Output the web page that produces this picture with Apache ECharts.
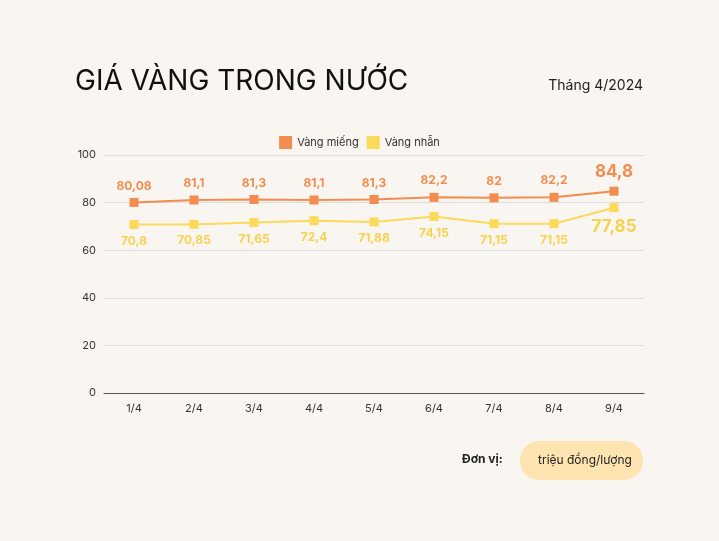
<!DOCTYPE html>
<html><head><meta charset="utf-8">
<script src="https://cdn.jsdelivr.net/npm/echarts@6/dist/echarts.min.js"></script>
<style>html,body{margin:0;padding:0;background:#f9f6f2}#c{width:719px;height:541px}</style>
</head><body><div id="c"></div>
<script>
const categories=['1/4','2/4','3/4','4/4','5/4','6/4','7/4','8/4','9/4'];
const vangMieng=[80.08,81.1,81.3,81.1,81.3,82.2,82,82.2,84.8];
const vangNhan=[70.8,70.85,71.65,72.4,71.88,74.15,71.15,71.15,77.85];
const fmt=v=>String(v).replace('.',',');
function mk(arr){return arr.map((v,i)=>i===arr.length-1?{value:v,label:{fontSize:17,fontWeight:'bold'}}:v);}
const chart=echarts.init(document.getElementById('c'));
chart.setOption({
 backgroundColor:'#f9f6f2',
 animation:false,
 textStyle:{fontFamily:'Inter'},
 title:[{text:'GIÁ VÀNG TRONG NƯỚC',left:70,top:63,textStyle:{fontSize:28,fontWeight:'normal',color:'#111',fontFamily:'Inter'}},
  {text:'Tháng 4/2024',right:71,top:74,textStyle:{fontSize:14,fontWeight:'normal',color:'#222'}}],
 legend:{top:131,left:'center',itemWidth:13,itemHeight:13,icon:'rect',textStyle:{fontSize:11,color:'#333'},data:['Vàng miếng','Vàng nhẫn']},
 grid:{left:104,right:75,top:155,bottom:148},
 xAxis:{type:'category',data:categories,axisTick:{show:false},axisLine:{lineStyle:{color:'#555'}},axisLabel:{color:'#333',fontSize:11,margin:10}},
 yAxis:{type:'value',min:0,max:100,interval:20,axisLabel:{color:'#333',fontSize:11},splitLine:{lineStyle:{color:'#ddd'}}},
 series:[
  {name:'Vàng miếng',type:'line',data:mk(vangMieng),color:'#f28d4f',symbol:'rect',symbolSize:9,lineStyle:{width:2},
   label:{show:true,position:'top',distance:6,color:'#f28d4f',fontWeight:'bold',fontSize:12,formatter:p=>fmt(p.value)}},
  {name:'Vàng nhẫn',type:'line',data:mk(vangNhan),color:'#fbd95a',symbol:'rect',symbolSize:9,lineStyle:{width:2},
   label:{show:true,position:'bottom',distance:6,color:'#f7d24f',fontWeight:'bold',fontSize:12,formatter:p=>fmt(p.value)}}
 ],
 graphic:[
  {type:'text',left:462,top:453,style:{text:'Đơn vị:',font:'bold 12px Inter',fill:'#222'}},
  {type:'rect',left:520,top:441,shape:{width:123,height:39,r:19},style:{fill:'#fde4b0'}},
  {type:'text',left:538,top:454,style:{text:'triệu đồng/lượng',font:'12px Inter',fill:'#222'}}
 ]
});
</script></body></html>
